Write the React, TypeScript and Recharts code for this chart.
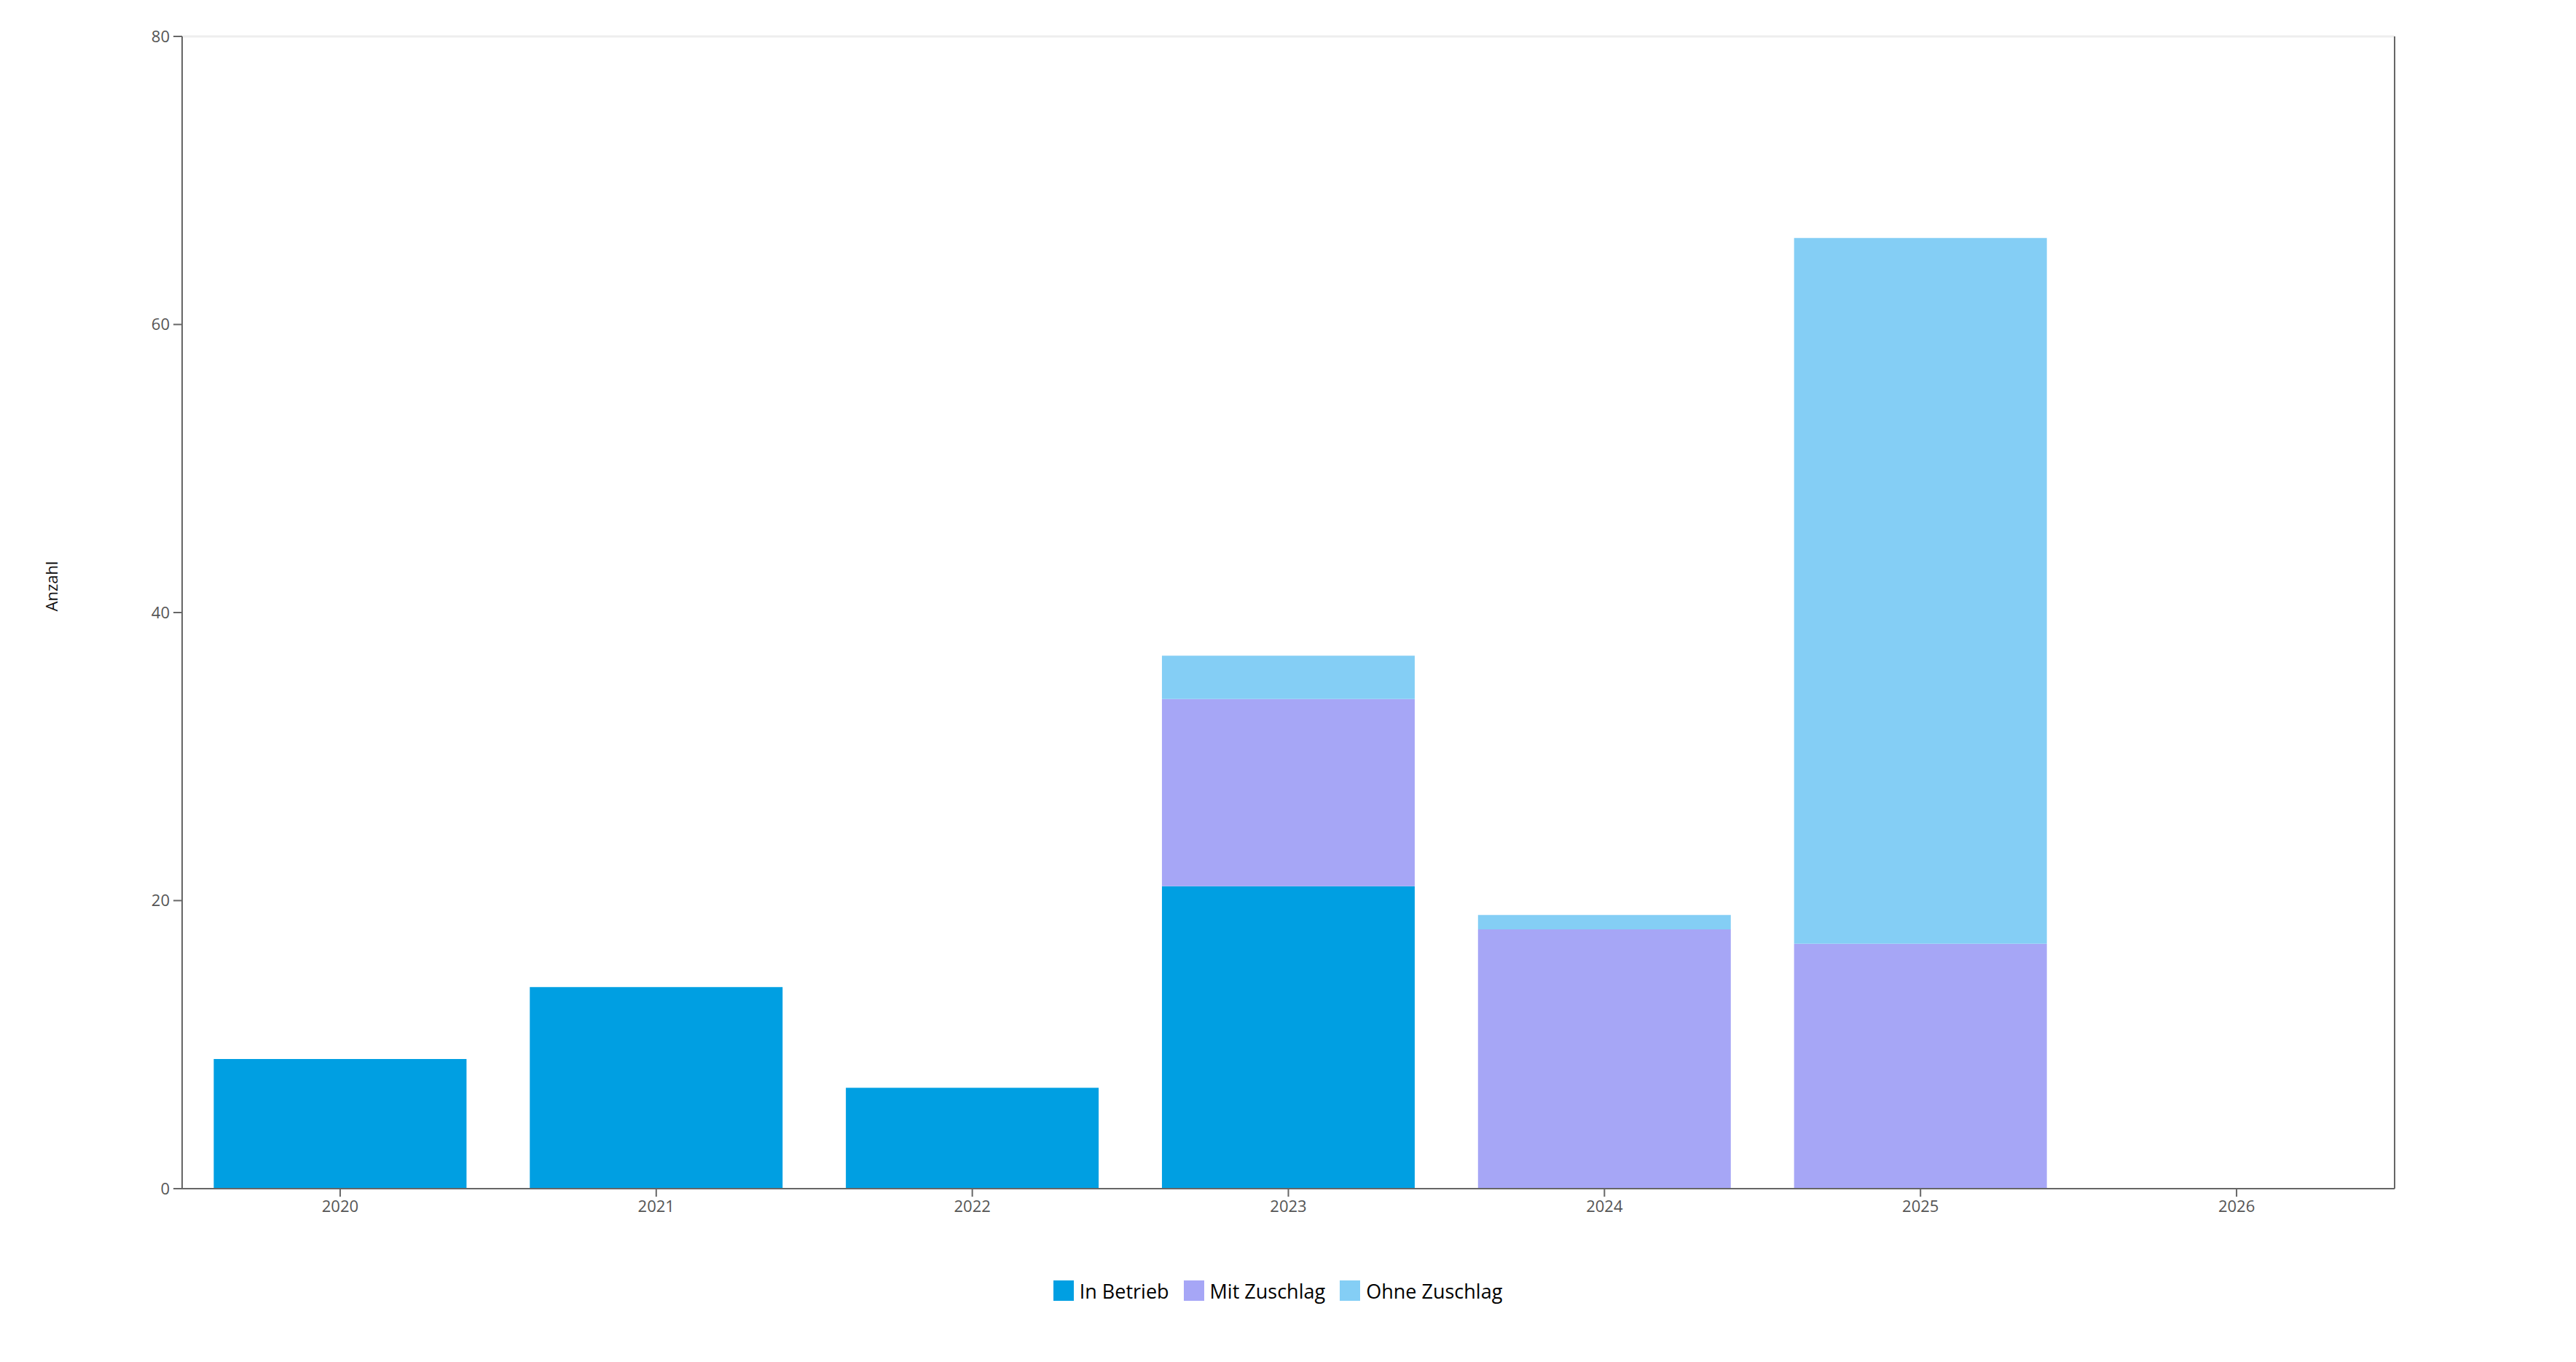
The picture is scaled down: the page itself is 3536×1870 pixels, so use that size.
import React from 'react';
import { BarChart, Bar, XAxis, YAxis, Legend, ReferenceLine, Label } from 'recharts';

const years = ['2020', '2021', '2022', '2023', '2024', '2025', '2026'];
const inBetrieb = [9, 14, 7, 21, 0, 0, 0];
const mitZuschlag = [0, 0, 0, 13, 18, 17, 0];
const ohneZuschlag = [0, 0, 0, 3, 1, 49, 0];
const yTicks = [0, 20, 40, 60, 80];

const seriesNames = ['In Betrieb', 'Mit Zuschlag', 'Ohne Zuschlag'];
const seriesColors = ['#009FE2', '#A6A6F6', '#84CEF5'];

const data = years.map((year, i) => ({
  year,
  inBetrieb: inBetrieb[i],
  mitZuschlag: mitZuschlag[i],
  ohneZuschlag: ohneZuschlag[i],
}));

const FONT = "'Open Sans', 'Noto Sans', sans-serif";

const LegendContent = () => (
  <div
    style={{
      display: 'flex',
      justifyContent: 'center',
      alignItems: 'center',
      height: 40,
      fontFamily: FONT,
      fontSize: 27,
      color: '#000',
    }}
  >
    {seriesNames.map((name, i) => (
      <div key={name} style={{ display: 'flex', alignItems: 'center', marginRight: i < seriesNames.length - 1 ? 20 : 0 }}>
        <span style={{ display: 'inline-block', width: 28, height: 28, background: seriesColors[i], marginRight: 8 }} />
        <span>{name}</span>
      </div>
    ))}
  </div>
);

const AxisTitle = () => (
  <text
    x={62}
    y={797}
    transform="rotate(-90, 62, 797)"
    textAnchor="middle"
    dominantBaseline="central"
    fontFamily={FONT}
    fontSize={22}
    fill="#111"
  >
    Anzahl
  </text>
);

export default function App() {
  const axisStroke = { stroke: '#666', strokeWidth: 2 };
  return (
    <div style={{ width: 3520, height: 1854, fontFamily: FONT, background: '#fff' }}>
      <BarChart
        width={3520}
        height={1854}
        data={data}
        margin={{ top: 42, right: 240, left: 162, bottom: 140 }}
        barCategoryGap="10%"
      >
        <XAxis
          dataKey="year"
          height={50}
          tickSize={11}
          tickMargin={5}
          axisLine={axisStroke}
          tickLine={axisStroke}
          tick={{ fill: '#555', fontSize: 22, fontFamily: FONT }}
        />
        <YAxis
          yAxisId="left"
          width={80}
          domain={[0, 80]}
          ticks={yTicks}
          tickSize={12}
          tickMargin={5}
          axisLine={axisStroke}
          tickLine={axisStroke}
          tick={{ fill: '#555', fontSize: 22, fontFamily: FONT }}
        >
          <Label content={<AxisTitle />} />
        </YAxis>
        <YAxis
          yAxisId="right"
          orientation="right"
          width={1}
          domain={[0, 80]}
          tick={false}
          tickLine={false}
          axisLine={axisStroke}
        />
        <ReferenceLine yAxisId="left" y={80} stroke="#eeeeee" strokeWidth={3} ifOverflow="extendDomain" />
        <Bar yAxisId="left" dataKey="inBetrieb" name={seriesNames[0]} stackId="a" fill={seriesColors[0]} isAnimationActive={false} />
        <Bar yAxisId="left" dataKey="mitZuschlag" name={seriesNames[1]} stackId="a" fill={seriesColors[1]} isAnimationActive={false} />
        <Bar yAxisId="left" dataKey="ohneZuschlag" name={seriesNames[2]} stackId="a" fill={seriesColors[2]} isAnimationActive={false} />
        <Legend
          verticalAlign="bottom"
          content={<LegendContent />}
          wrapperStyle={{ left: -14, width: 3520, bottom: 70, height: 40 }}
        />
      </BarChart>
    </div>
  );
}
